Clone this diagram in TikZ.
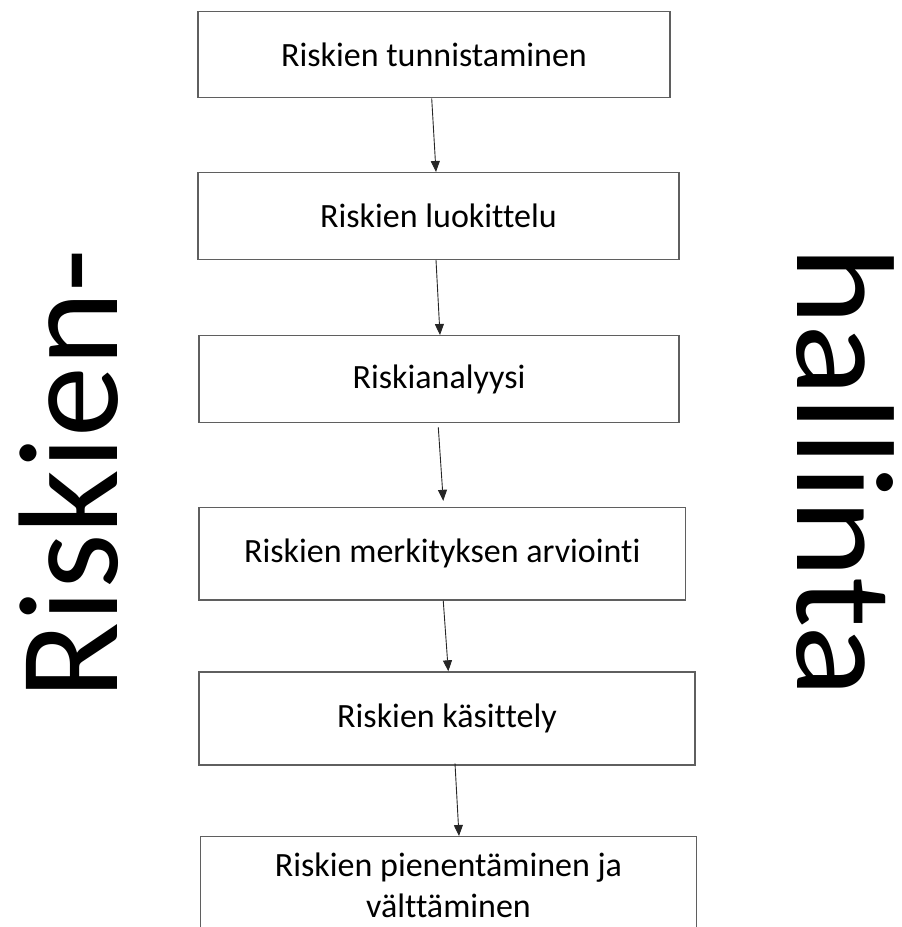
\documentclass[tikz,border=0pt]{standalone}
\usepackage{fontspec}
\setmainfont{Carlito}[Ligatures={NoCommon}]
\usetikzlibrary{arrows.meta}
\definecolor{boxline}{HTML}{5F5F5F}
\tikzset{
  stepbox/.style={draw=boxline, line width=1.4pt, inner sep=0pt, align=center,
    font=\fontsize{34}{41}\selectfont},
  flow/.style={draw=black!85, line width=0.9pt, -{Triangle[width=9pt,length=11pt]}},
  bigword/.style={inner sep=0pt, anchor=base}
}
\begin{document}
\begin{tikzpicture}[x=1pt,y=-1pt]
\useasboundingbox (0,0) rectangle (902,927);
\clip (0,0) rectangle (902,927);
\node[stepbox, minimum width=472pt, minimum height=86pt] (b1) at (434,54.7) {Riskien tunnistaminen};
\node[stepbox, minimum width=481pt, minimum height=86.6pt] (b2) at (438.5,216) {Riskien luokittelu};
\node[stepbox, minimum width=480pt, minimum height=87pt] (b3) at (439,379.2) {Riskianalyysi};
\node[stepbox, minimum width=486.5pt, minimum height=92.5pt] (b4) at (442.25,553.75) {Riskien merkityksen arviointi};
\node[stepbox, minimum width=496pt, minimum height=93pt] (b5) at (447,718.5) {Riskien käsittely};
\node[stepbox, minimum width=496pt, minimum height=98pt, anchor=north] (b6) at (448.5,836) {Riskien pienentäminen ja\\välttäminen};
\draw[flow] ([xshift=-2.3pt]b1.south) -- ([xshift=-2.5pt]b2.north);
\draw[flow] ([xshift=-2.5pt]b2.south) -- ([xshift=1pt]b3.north);
\draw[flow] ([xshift=-0.7pt,yshift=-4pt]b3.south) -- ([xshift=1pt,yshift=6pt]b4.north);
\draw[flow] ([xshift=1pt]b4.south) -- ([xshift=1.3pt]b5.north);
\draw[flow] ([xshift=8pt,yshift=2.3pt]b5.south) -- ([xshift=10.5pt]b6.north);
\node[bigword, rotate=90, font=\fontsize{142}{142}\selectfont] (left) at (117,474) {Riskien-};
\node[bigword, rotate=-90, yscale=0.93, font=\fontsize{150}{150}\selectfont] (right) at (797,472) {hallinta};
\end{tikzpicture}
\end{document}
